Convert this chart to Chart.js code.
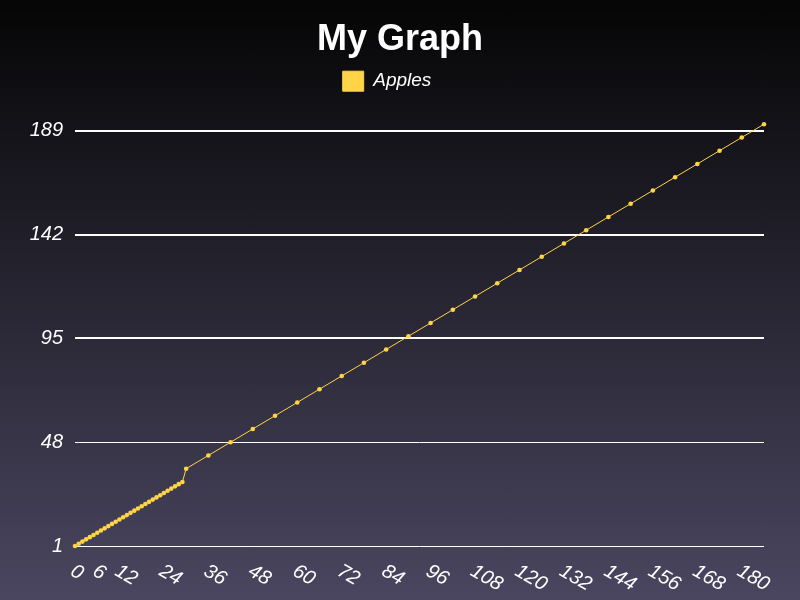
<!DOCTYPE html>
<html>
<head>
<meta charset="utf-8">
<script src="https://cdn.jsdelivr.net/npm/chart.js@4/dist/chart.umd.min.js"></script>
<style>
  html, body { margin:0; padding:0; }
  body { width:800px; height:600px; background: linear-gradient(to bottom, #050505 0%, #4a4660 100%); }
  #box { width:800px; height:600px; }
</style>
</head>
<body>
<div id="box"><canvas id="myChart" width="800" height="600"></canvas></div>
<script>
// data
var xValues = [0,1,2,3,4,5,6,7,8,9,10,11,12,13,14,15,16,17,18,19,20,21,22,23,24,25,26,27,28,29,
  30,36,42,48,54,60,66,72,78,84,90,96,102,108,114,120,126,132,138,144,150,156,162,168,174,180,186];
var apples = [1,2,3,4,5,6,7,8,9,10,11,12,13,14,15,16,17,18,19,20,21,22,23,24,25,26,27,28,29,30,
  36,42,48,54,60,66,72,78,84,90,96,102,108,114,120,126,132,138,144,150,156,162,168,174,180,186,192];
var xTicks = [0,6,12,24,36,48,60,72,84,96,108,120,132,144,156,168,180];
var yTicks = [1,48,95,142,189];

var yellow = "#ffd447";
var pts = [];
for (var i in xValues) pts.push({x: xValues[i], y: apples[i]});

// x labels are drawn slanted clockwise, which chart.js can't do itself
var slantLabels = {
  id: "slantLabels",
  afterDraw: function(chart) {
    var sc = chart.scales.x, ctx = chart.ctx;
    ctx.save();
    ctx.fillStyle = "#ffffff";
    ctx.font = "italic 20px 'Liberation Sans', Arial, sans-serif";
    ctx.textAlign = "left";
    ctx.textBaseline = "top";
    sc.ticks.forEach(function(t) {
      var px = sc.getPixelForValue(t.value);
      ctx.save();
      ctx.translate(px + 2, sc.top + 15);
      ctx.rotate(Math.PI / 6);
      ctx.fillText(String(t.value), 0, 0);
      ctx.restore();
    });
    ctx.restore();
  }
};

var legendGap = {
  id: "legendGap",
  beforeInit: function(chart) {
    var fit = chart.legend.fit;
    chart.legend.fit = function() {
      fit.bind(chart.legend)();
      this.height += 23;
    };
  },
  afterLayout: function(chart) {
    chart.legend.left -= 13;
    chart.legend.right -= 13;
  }
};

new Chart("myChart", {
  type: "line",
  data: {
    datasets: [{
      label: "Apples",
      data: pts,
      borderColor: yellow,
      backgroundColor: yellow,
      borderWidth: 1,
      pointRadius: 2.3,
      pointBorderWidth: 0,
      pointBackgroundColor: yellow,
      fill: false,
      clip: false
    }]
  },
  options: {
    responsive: false,
    devicePixelRatio: 1,
    animation: false,
    layout: {padding: 0},
    plugins: {
      title: {
        display: true,
        text: "My Graph",
        color: "#ffffff",
        font: {family: "'Liberation Sans', Arial, sans-serif", size: 36, weight: "bold"},
        padding: {top: 18, bottom: 0}
      },
      legend: {
        labels: {
          color: "#ffffff",
          boxWidth: 21,
          boxHeight: 20,
          font: {family: "'Liberation Sans', Arial, sans-serif", size: 19, style: "italic"}
        }
      },
      tooltip: {enabled: false}
    },
    scales: {
      x: {
        type: "linear",
        min: 0,
        max: 186,
        afterBuildTicks: function(s) { s.ticks = xTicks.map(function(v){ return {value: v}; }); },
        afterFit: function(s) { s.height = 54; },
        ticks: {display: false},
        grid: {display: false},
        border: {display: false}
      },
      y: {
        min: 1,
        max: 192,
        afterBuildTicks: function(s) { s.ticks = yTicks.map(function(v){ return {value: v}; }); },
        afterFit: function(s) { s.width = 75; },
        ticks: {
          color: "#ffffff",
          padding: 12,
          font: {family: "'Liberation Sans', Arial, sans-serif", size: 20, style: "italic"}
        },
        grid: {
          color: "#ffffff",
          drawTicks: false,
          lineWidth: function(c) { return c.index >= 2 ? 2 : 1; }
        },
        border: {display: false}
      },
      // empty axis on the right, only keeps the plot clear of the edge
      yRight: {
        position: "right",
        afterFit: function(s) { s.width = 36; },
        ticks: {display: false},
        grid: {display: false},
        border: {display: false}
      }
    }
  },
  plugins: [slantLabels, legendGap]
});
</script>
</body>
</html>
